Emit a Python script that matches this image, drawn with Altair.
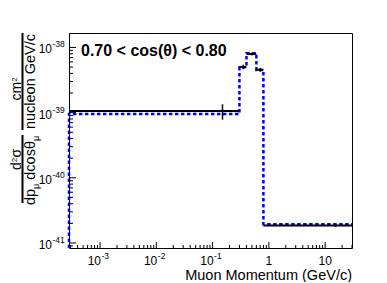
import altair as alt
import pandas as pd

# ---- axis ranges ----
X_MIN, X_MAX = 2.81e-4, 30.0
Y_MIN, Y_MAX = 8.37e-42, 1.667e-38

# ---- histogram data ----
bin_edges = [X_MIN, 0.3, 0.4, 0.6, 0.8, 30.0]
bin_centers = [0.15, 0.35, 0.5, 0.7, 15.4]
data_vals = [1.06e-39, 5.03e-39, 7.95e-39, 4.55e-39, 1.85e-41]
data_errs = [0.28e-39, 0.40e-39, 0.40e-39, 0.30e-39, 0.09e-41]
mc_vals = [0.955e-39, 4.97e-39, 8.15e-39, 4.52e-39, 1.93e-41]

# ---- tick labels ----
x_major = [1e-3, 1e-2, 1e-1, 1.0, 10.0]
x_base = ["10", "10", "10", "1", "10"]
x_exp = ["-3", "-2", "-1", "", ""]
y_major = [1e-41, 1e-40, 1e-39, 1e-38]
y_base = ["10", "10", "10", "10"]
y_exp = ["-41", "-40", "-39", "-38"]

W, H = 283, 215
FONT = "Liberation Sans"

xs = alt.Scale(type="log", domain=[X_MIN, X_MAX], nice=False)
ys = alt.Scale(type="log", domain=[Y_MIN, Y_MAX], nice=False)


def X(f="x"):
    return alt.X(f + ":Q", scale=xs, axis=None)


def Y(f="y"):
    return alt.Y(f + ":Q", scale=ys, axis=None)


# MC step outline
mc_pts = [(bin_edges[0], Y_MIN)]
for i, v in enumerate(mc_vals):
    mc_pts.append((bin_edges[i], v))
    mc_pts.append((bin_edges[i + 1], v))
mc_df = pd.DataFrame({"x": [p[0] for p in mc_pts], "y": [p[1] for p in mc_pts],
                      "o": list(range(len(mc_pts)))})

dat_df = pd.DataFrame({
    "lo": bin_edges[:-1], "hi": bin_edges[1:], "x": bin_centers,
    "y": data_vals,
    "ylo": [v - e for v, e in zip(data_vals, data_errs)],
    "yhi": [v + e for v, e in zip(data_vals, data_errs)],
})

mc_line = alt.Chart(mc_df).mark_line(color="#0000ff", strokeWidth=2.5,
                                     strokeDash=[3.5, 2.5]).encode(
    x=X(), y=Y(), order="o:Q")

dat_h = alt.Chart(dat_df).mark_rule(color="black", strokeWidth=2).encode(
    x=X("lo"), x2="hi:Q", y=Y())
dat_v = alt.Chart(dat_df).mark_rule(color="black", strokeWidth=1.5).encode(
    x=X(), y=Y("ylo"), y2="yhi:Q")

# ticks (inside the frame)
x_minor = [m * 10.0 ** e for e in range(-4, 2) for m in range(2, 10)
           if X_MIN <= m * 10.0 ** e <= X_MAX]
y_minor = [m * 10.0 ** e for e in range(-42, -37) for m in range(2, 10)
           if Y_MIN <= m * 10.0 ** e <= Y_MAX]

xt_major = alt.Chart(pd.DataFrame({"x": x_major})).mark_rule(color="black", strokeWidth=1).encode(
    x=X(), y=alt.value(H), y2=alt.value(H - 6))
xt_minor = alt.Chart(pd.DataFrame({"x": x_minor})).mark_rule(color="black", strokeWidth=1).encode(
    x=X(), y=alt.value(H), y2=alt.value(H - 3))
yt_major = alt.Chart(pd.DataFrame({"y": y_major})).mark_rule(color="black", strokeWidth=1).encode(
    y=Y(), x=alt.value(0), x2=alt.value(7))
yt_minor = alt.Chart(pd.DataFrame({"y": y_minor})).mark_rule(color="black", strokeWidth=1).encode(
    y=Y(), x=alt.value(0), x2=alt.value(4))

# tick labels
xl_df = pd.DataFrame({"x": x_major, "base": x_base, "exp": x_exp})
xl_exp_df = xl_df[xl_df["exp"] != ""]
xl_plain_df = xl_df[xl_df["exp"] == ""]

xl_base = alt.Chart(xl_exp_df).mark_text(align="right", baseline="alphabetic", dx=1,
                                         fontSize=12, font=FONT, color="black").encode(
    x=X(), y=alt.value(H + 17), text="base:N")
xl_expo = alt.Chart(xl_exp_df).mark_text(align="left", baseline="alphabetic", dx=1.5,
                                         fontSize=8.5, font=FONT, color="black").encode(
    x=X(), y=alt.value(H + 11), text="exp:N")
xl_plain = alt.Chart(xl_plain_df).mark_text(align="center", baseline="alphabetic",
                                            fontSize=12, font=FONT, color="black").encode(
    x=X(), y=alt.value(H + 17), text="base:N")

yl_df = pd.DataFrame({"y": y_major, "base": y_base, "exp": y_exp})
yl_base = alt.Chart(yl_df).mark_text(align="right", baseline="middle", dy=2,
                                     fontSize=12, font=FONT, color="black").encode(
    y=Y(), x=alt.value(-17), text="base:N")
yl_expo = alt.Chart(yl_df).mark_text(align="left", baseline="middle", dy=-3,
                                     fontSize=8.5, font=FONT, color="black").encode(
    y=Y(), x=alt.value(-16.5), text="exp:N")


def txt(s, x, y, size, **kw):
    return alt.Chart(pd.DataFrame({"t": [s]})).mark_text(
        fontSize=size, font=FONT, color="black", **kw).encode(
        x=alt.value(x), y=alt.value(y), text="t:N")


def bar(x, y1, y2):
    return alt.Chart(pd.DataFrame({"a": [0]})).mark_rule(color="black", strokeWidth=2).encode(
        x=alt.value(x), y=alt.value(y1), y2=alt.value(y2))


ROT = dict(angle=270, baseline="alphabetic")
NUM_X = -48     # numerator baseline
SUP_X = -52     # superscript baseline
BAR_X = -46.5   # fraction bars
DEN_X = -34     # denominator baseline
SUB_X = -30.5   # subscript baseline
# y-axis title (rotated fractions)
ytitle = [
    bar(BAR_X, 0, 97),
    bar(BAR_X, 102, 170),
    # numerator of upper fraction: cm^2
    txt("cm", NUM_X, 67.5, 14, align="left", **ROT),
    txt("2", SUP_X, 48.8, 8, align="left", **ROT),
    txt("nucleon GeV/c", DEN_X, 48.5, 14.5, align="center", **ROT),
    # numerator of lower fraction: d^2 sigma
    txt("d", NUM_X, 137, 14, align="left", **ROT),
    txt("2", SUP_X, 129.2, 8, align="left", **ROT),
    txt("σ", NUM_X, 124.6, 14, align="left", **ROT),
    # denominator: dp_mu dcos theta_mu
    txt("dp", DEN_X, 172, 14.5, align="left", **ROT),
    txt("μ", SUB_X, 155.9, 9, align="left", **ROT),
    txt("dcosθ", DEN_X, 146.7, 14.5, align="left", **ROT),
    txt("μ", SUB_X, 107.9, 9, align="left", **ROT),
]

label = txt("0.70 < cos(θ) < 0.80", 12, 23, 16, align="left", baseline="alphabetic",
            fontWeight="bold")
xtitle = txt("Muon Momentum (GeV/c)", W, 247, 14.5, align="right", baseline="alphabetic")

chart = alt.layer(
    mc_line, dat_h, dat_v,
    xt_major, xt_minor, yt_major, yt_minor,
    xl_base, xl_expo, xl_plain, yl_base, yl_expo,
    *ytitle, label, xtitle,
).properties(
    width=W, height=H,
    autosize=alt.AutoSizeParams(type="none"),
    padding={"left": 61, "top": 25, "right": 20, "bottom": 34},
    background="white",
).configure_view(stroke="black", strokeWidth=1)

chart.save("out.html", embed_options={"renderer": "svg", "actions": False})
